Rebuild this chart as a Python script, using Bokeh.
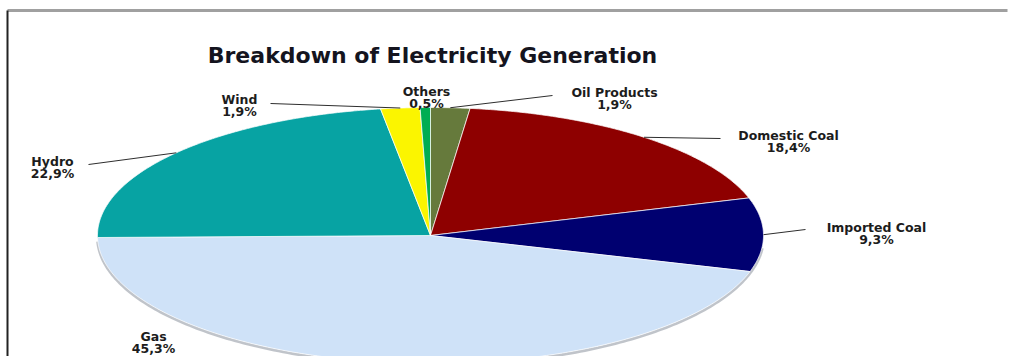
import numpy as np
from bokeh.plotting import figure
from bokeh.models import Range1d
from bokeh.core.properties import value
from bokeh.embed import file_html
from bokeh.resources import INLINE

# ---- data ----
title_text = "Breakdown of Electricity Generation"
categories = ["Oil Products", "Domestic Coal", "Imported Coal", "Gas", "Hydro", "Wind", "Others"]
shares = [1.9, 18.4, 9.3, 45.3, 22.9, 1.9, 0.5]
pct_labels = ["1,9%", "18,4%", "9,3%", "45,3%", "22,9%", "1,9%", "0,5%"]
colors = ["#667a3c", "#8e0000", "#000070", "#cfe2f8", "#07a3a3", "#fbf500", "#00ad52"]

# ---- layout (pixel-like coordinates, y grows downwards) ----
W, H = 1009, 356
cx, cy, rx, ry = 430, 235, 333, 128
label_xy = {                      # name-line centre of each label
    "Oil Products": (614, 92),
    "Domestic Coal": (788, 135),
    "Imported Coal": (876, 227),
    "Gas": (153, 336),
    "Hydro": (52, 161),
    "Wind": (239, 99),
    "Others": (426, 91),
}
leader_start = {                  # label side of each leader line
    "Oil Products": (552, 95),
    "Domestic Coal": (720, 138),
    "Imported Coal": (805, 229),
    "Hydro": (88, 164),
    "Wind": (270, 103),
}

p = figure(width=W, height=H, x_range=Range1d(0, W), y_range=Range1d(H, 0),
           output_backend="svg", toolbar_location=None, min_border=0,
           background_fill_color="white", border_fill_color="white")
p.axis.visible = False
p.grid.visible = False
p.outline_line_color = None

def ell(theta_deg):
    t = np.radians(theta_deg)
    return cx + rx * np.sin(t), cy - ry * np.cos(t)

total = sum(shares)
starts, ends = [], []
acc = 0.0
for s in shares:
    starts.append(acc / total * 360)
    acc += s
    ends.append(acc / total * 360)

# lower rim shadow (3D edge)
tt = np.linspace(95, 268, 200)
ex, ey = ell(tt)
p.line(ex, ey + 1.5, line_color="#8c939e", line_width=3, line_alpha=0.55)

xs, ys = [], []
for a0, a1 in zip(starts, ends):
    n = max(3, int((a1 - a0) * 2))
    th = np.linspace(a0, a1, n)
    px, py = ell(th)
    xs.append([cx] + list(px))
    ys.append([cy] + list(py))
p.patches(xs, ys, fill_color=colors, line_color="white", line_width=1, line_alpha=0.7)

# leader lines
lx0, ly0, lx1, ly1 = [], [], [], []
for c, a0, a1 in zip(categories, starts, ends):
    if c in leader_start:
        x0, y0 = leader_start[c]
        x1, y1 = ell((a0 + a1) / 2)
        lx0.append(x0); ly0.append(y0); lx1.append(x1); ly1.append(y1)
p.segment(lx0, ly0, lx1, ly1, line_color="#2e2e2e", line_width=1)

# labels
nx = [label_xy[c][0] for c in categories]
ny = [label_xy[c][1] for c in categories]
p.text(nx, ny, text=categories, text_font=value("DejaVu Sans"), text_font_style="bold",
       text_font_size="12.5px", text_color="#1c1c1c", text_align="center", text_baseline="middle")
p.text(nx, [y + 12 for y in ny], text=pct_labels, text_font=value("DejaVu Sans"),
       text_font_style="bold", text_font_size="12.5px", text_color="#1c1c1c",
       text_align="center", text_baseline="middle")

# title
p.text([432], [55], text=[title_text], text_font=value("DejaVu Sans"), text_font_style="bold",
       text_font_size="22px", text_color="#14141e", text_align="center", text_baseline="middle")

# frame
p.segment([7], [10], [1007], [10], line_color="#a0a0a0", line_width=3)
p.segment([7], [10], [7], [356], line_color="#222222", line_width=2)

open("out.html", "w").write(file_html(p, INLINE))
